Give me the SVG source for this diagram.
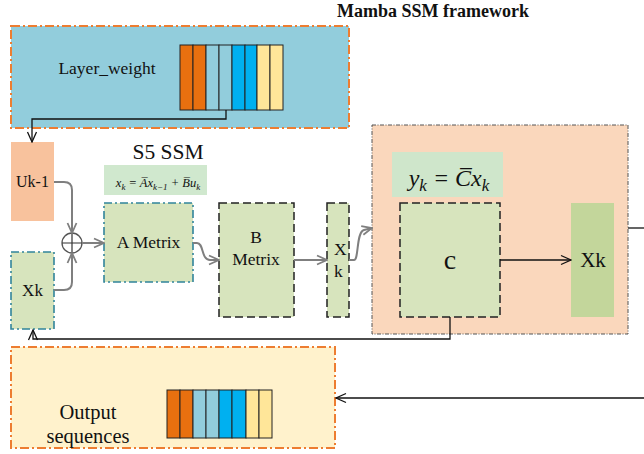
<svg xmlns="http://www.w3.org/2000/svg" width="644" height="454" viewBox="0 0 644 454" font-family="'Liberation Serif', 'Times New Roman', 'DejaVu Serif', serif">
<style>
text{font-family:'Liberation Serif','Times New Roman','DejaVu Serif',serif;fill:#111}
.orangebox{stroke:#ED7D31;stroke-width:2;stroke-dasharray:9 3 2 3}
.teal{fill:#D7E4BD;stroke:#31849B;stroke-width:1.6;stroke-dasharray:8 3 2 3}
.dash{fill:#D7E4BD;stroke:#222;stroke-width:1.5;stroke-dasharray:8 4}
.bar{stroke:#222;stroke-width:1}
.o{fill:#E8700F}.lb{fill:#92CDDC}.b{fill:#00B0F0}.y{fill:#FFE699}
.gray{fill:none;stroke:#7F7F7F;stroke-width:2;marker-end:url(#ag)}
.blk{fill:none;stroke:#111;stroke-width:1.3}
.math{font-style:italic}
</style>
<defs>
<marker id="ag" viewBox="0 0 12 12" refX="11" refY="6" markerWidth="12" markerHeight="12" orient="auto" markerUnits="userSpaceOnUse">
<path d="M1 1.5 L11 6 L1 10.5" fill="none" stroke="#7F7F7F" stroke-width="1.8"/>
</marker>
<marker id="ab" viewBox="0 0 12 12" refX="11" refY="6" markerWidth="12" markerHeight="12" orient="auto" markerUnits="userSpaceOnUse">
<path d="M1 1.5 L11 6 L1 10.5" fill="none" stroke="#111" stroke-width="1.3"/>
</marker>
</defs>

<text x="433" y="17" font-size="18" font-weight="bold" text-anchor="middle">Mamba SSM framework</text>

<g id="layer-weight">
<rect x="11" y="26" width="338" height="102" fill="#92CDDC" class="orangebox"/>
<text x="107" y="74" font-size="17.5" text-anchor="middle">Layer_weight</text>
<rect class="bar o" x="180" y="45" width="13" height="65"/>
<rect class="bar o" x="193" y="45" width="13" height="65"/>
<rect class="bar lb" x="206" y="45" width="13" height="65"/>
<rect class="bar lb" x="219" y="45" width="13" height="65"/>
<rect class="bar b" x="232" y="45" width="13" height="65"/>
<rect class="bar b" x="245" y="45" width="12" height="65"/>
<rect class="bar y" x="257" y="45" width="13" height="65"/>
<rect class="bar y" x="270" y="45" width="13" height="65"/>
</g>

<g id="uk1">
<rect x="11" y="142" width="43" height="79" fill="#F8C29D"/>
<text x="32.5" y="187" font-size="16" text-anchor="middle">Uk-1</text>
</g>

<g id="xk-left">
<rect x="11" y="252" width="43" height="77" class="teal"/>
<text x="32.5" y="296" font-size="17" text-anchor="middle">Xk</text>
</g>

<g id="sum">
<circle cx="72" cy="243" r="10" fill="#fff" stroke="#555" stroke-width="1.3"/>
<path d="M62 243 H82 M72 233 V253" stroke="#333" stroke-width="1.2"/>
</g>

<g id="s5-title">
<text x="168" y="159" font-size="21.5" text-anchor="middle">S5 SSM</text>
</g>

<g id="formula-x">
<rect x="104" y="165" width="103" height="30" fill="#D0E8CE"/>
<text x="158" y="187" font-size="12.5" text-anchor="middle" class="math">x<tspan font-size="9" dy="2.5">k</tspan><tspan dy="-2.5"> = A̅x</tspan><tspan font-size="9" dy="2.5">k−1</tspan><tspan dy="-2.5"> + B̅u</tspan><tspan font-size="9" dy="2.5">k</tspan></text>
</g>

<g id="a-metrix">
<rect x="104" y="203" width="89" height="79" class="teal"/>
<text x="148.5" y="248" font-size="17.5" text-anchor="middle">A Metrix</text>
</g>

<g id="b-metrix">
<rect x="219" y="203" width="75" height="114" class="dash"/>
<text x="256" y="243" font-size="17.5" text-anchor="middle">B</text>
<text x="256" y="265" font-size="17.5" text-anchor="middle">Metrix</text>
</g>

<g id="xk-mid">
<rect x="327" y="203" width="22" height="114" class="dash"/>
<text x="334" y="255" font-size="17.5">X</text>
<text x="334" y="277" font-size="17.5">k</text>
</g>

<g id="mamba">
<rect x="372" y="125" width="256" height="209" fill="#FAD7BC" stroke="#555" stroke-width="1" stroke-dasharray="4 1.5 1 1.5"/>
</g>

<g id="formula-y">
<rect x="392" y="152" width="111" height="45" fill="#CFE6CB"/>
<text x="449" y="186" font-size="24" text-anchor="middle" class="math">y<tspan font-size="17" dy="5">k</tspan><tspan dy="-5"> = C̅x</tspan><tspan font-size="17" dy="5">k</tspan></text>
</g>

<g id="c-block">
<rect x="400" y="203" width="100" height="114" class="dash"/>
<text x="450" y="269" font-size="28" text-anchor="middle">c</text>
</g>

<g id="xk-right">
<rect x="571" y="203" width="43" height="114" fill="#C3D69B"/>
<text x="593" y="267" font-size="21" text-anchor="middle">Xk</text>
</g>

<g id="output">
<rect x="11" y="347" width="324" height="101" fill="#FFF2CC" class="orangebox"/>
<text x="88" y="419" font-size="20.5" text-anchor="middle">Output</text>
<text x="88" y="443" font-size="20.5" text-anchor="middle">sequences</text>
<rect class="bar o" x="167" y="390" width="13" height="48"/>
<rect class="bar o" x="180" y="390" width="13" height="48"/>
<rect class="bar lb" x="193" y="390" width="13" height="48"/>
<rect class="bar lb" x="206" y="390" width="13" height="48"/>
<rect class="bar b" x="219" y="390" width="13" height="48"/>
<rect class="bar b" x="232" y="390" width="14" height="48"/>
<rect class="bar y" x="246" y="390" width="13" height="48"/>
<rect class="bar y" x="259" y="390" width="13" height="48"/>
</g>

<g id="connectors">
<path class="blk" d="M226 110 V119 H32 V142" marker-end="url(#ab)"/>
<path class="gray" d="M54 182 H64 Q72 182 72 190 V233"/>
<path class="gray" d="M54 290 H64 Q72 290 72 282 V253"/>
<path class="gray" d="M82 243 H104"/>
<path class="gray" d="M193 243 H197 C204 243 201 260 210 260 H219"/>
<path class="gray" d="M294 260 H327"/>
<path class="gray" d="M349 260 H354 C359 260 356 232 364 230 L372 228"/>
<path class="blk" d="M500 260 H571" marker-end="url(#ab)"/>
<path class="blk" d="M628 228 H644"/>
<path class="blk" d="M450 317 V339 H33 V330" marker-end="url(#ab)"/>
<path class="blk" d="M644 398 H336" marker-end="url(#ab)"/>
</g>
</svg>
